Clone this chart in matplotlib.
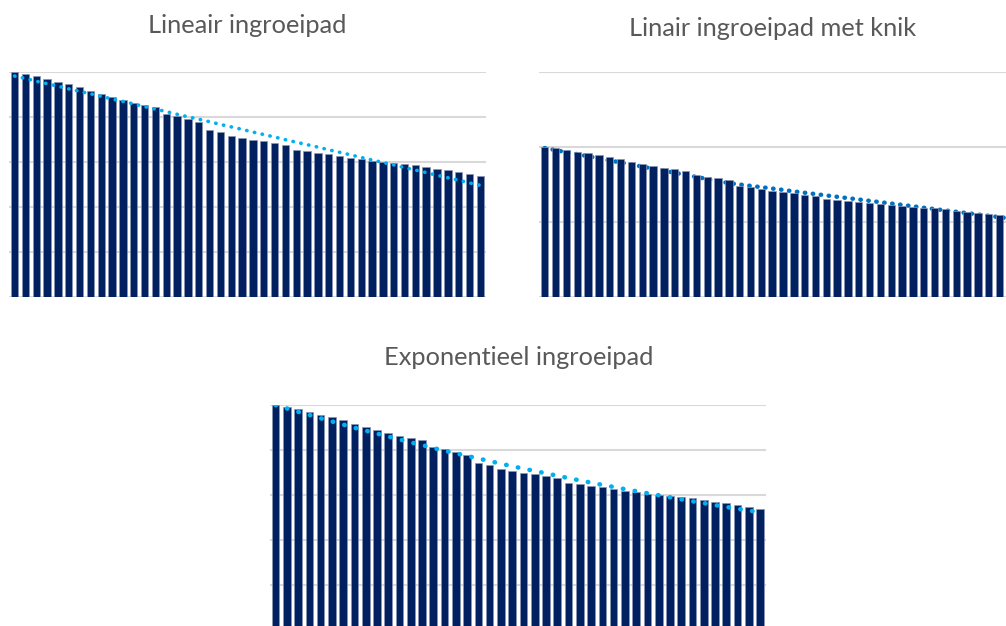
import numpy as np
import matplotlib
matplotlib.use("Agg")
import matplotlib.pyplot as plt

plt.rcParams['font.family'] = ['Lato', 'DejaVu Sans']

# bar values (same in all three panels)
bar_values = [100.0, 99.0, 98.1, 96.9, 95.7, 94.5, 93.2, 91.7, 90.2, 88.8,
              87.4, 86.2, 85.3, 84.3, 81.5, 80.3, 79.0, 77.8, 74.1, 73.2,
              71.7, 70.7, 69.9, 69.2, 68.3, 67.6, 65.5, 64.9, 64.0, 63.4,
              62.5, 61.8, 61.2, 60.6, 60.0, 59.4, 59.0, 58.7, 57.6, 56.9,
              56.3, 55.4, 54.7, 53.9]

# ingroeipad lines
lineair = [98.2, 97.1, 95.9, 94.8, 93.7, 92.5, 91.4, 90.3, 89.2, 88.0,
           86.9, 85.8, 84.6, 83.5, 82.4, 81.2, 80.1, 79.0, 77.9, 76.7,
           75.6, 74.5, 73.3, 72.2, 71.1, 69.9, 68.8, 67.7, 66.6, 65.4,
           64.3, 63.2, 62.0, 60.9, 59.8, 58.7, 57.5, 56.4, 55.3, 54.1,
           53.0, 51.9, 50.7, 49.6]

knik = [99.3, 97.9, 96.5, 95.2, 93.8, 92.4, 91.0, 89.7, 88.3, 86.9,
        85.5, 84.2, 82.8, 81.4, 80.0, 78.7, 77.3, 75.9, 75.0, 74.1,
        73.2, 72.3, 71.4, 70.4, 69.5, 68.6, 67.7, 66.8, 65.9, 65.0,
        64.1, 63.2, 62.3, 61.4, 60.5, 59.5, 58.6, 57.7, 56.8, 55.9,
        55.0, 54.1, 53.2, 52.2]

exponentieel = [100.0, 98.5, 97.0, 95.6, 94.1, 92.7, 91.3, 89.9, 88.6, 87.3,
                86.0, 84.7, 83.4, 82.2, 80.9, 79.7, 78.5, 77.4, 76.2, 75.1,
                73.9, 72.8, 71.7, 70.7, 69.6, 68.6, 67.5, 66.5, 65.5, 64.5,
                63.6, 62.6, 61.7, 60.8, 59.9, 59.0, 58.1, 57.2, 56.4, 55.5,
                54.7, 53.9, 53.1, 52.3]

titles = ["Lineair ingroeipad", "Linair ingroeipad met knik", "Exponentieel ingroeipad"]

BAR_COLOR = '#002060'
GRID_COLOR = '#d9d9d9'
TEXT_COLOR = '#595959'


def draw_panel(ax, line, ymax, step, line_color, lw, gap, line_behind):
    x = np.arange(len(bar_values))
    ax.bar(x, bar_values, width=0.68, color=BAR_COLOR, edgecolor='#8a96b4',
           linewidth=0.5, zorder=3)
    ax.plot(x, line, color=line_color, linewidth=lw,
            linestyle=(0, (0.1, gap)), dash_capstyle='round',
            zorder=2 if line_behind else 4)
    ax.set_xlim(-0.5, len(bar_values) - 0.5)
    ax.set_ylim(0, ymax)
    for g in np.arange(0, ymax + 0.1, step):
        ax.axhline(g, color=GRID_COLOR, linewidth=1.5, zorder=1)
    for s in ax.spines.values():
        s.set_visible(False)
    ax.set_xticks([])
    ax.set_yticks([])
    ax.patch.set_alpha(0)


fig = plt.figure(figsize=(10.06, 6.26), dpi=100)

ax1 = fig.add_axes([0.00915, 0.5256, 0.4737, 0.3594])
draw_panel(ax1, lineair, 100, 20, '#00B0F0', 2.6, 2.1, False)

ax2 = fig.add_axes([0.5361, 0.5256, 0.4737, 0.3594])
draw_panel(ax2, knik, 150, 50, '#0070C0', 3.2, 1.7, True)

ax3 = fig.add_axes([0.2683, -0.0064, 0.4929, 0.3594])
draw_panel(ax3, exponentieel, 100, 20, '#00B0F0', 3.3, 2.5, False)

for xc, yb, t in [(247, 33.3, titles[0]), (773, 36, titles[1]), (518.5, 365, titles[2])]:
    fig.text(xc / 1006, 1 - yb / 626, t, ha='center', va='baseline',
             fontsize=18.3, color=TEXT_COLOR)

fig.savefig('out.png', dpi=100)
